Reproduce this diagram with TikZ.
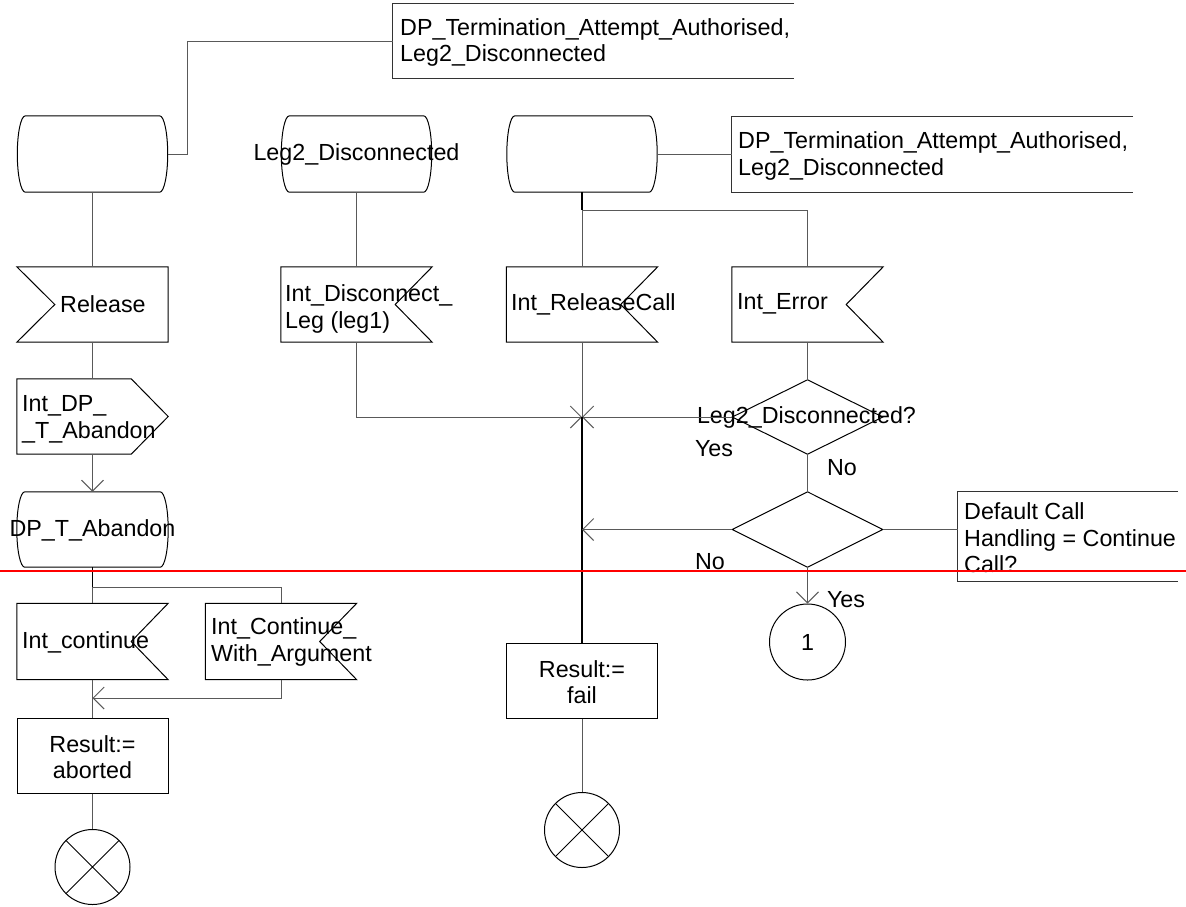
\documentclass[tikz,border=0pt]{standalone}
\usepackage{fontspec}
\setmainfont{Liberation Sans}
\usetikzlibrary{arrows.meta,calc}
\newcommand{\fs}{\fontsize{23.3}{26.6}\selectfont}
\newcommand{\sdlstate}[1]{%
 \draw[outl] ([xshift=8]#1.north west) -- ([xshift=-8]#1.north east)
  .. controls ([xshift=-3.6]#1.north east) and ([yshift=21]#1.east) .. (#1.east)
  .. controls ([yshift=-21]#1.east) and ([xshift=-3.6]#1.south east) .. ([xshift=-8]#1.south east)
  -- ([xshift=8]#1.south west)
  .. controls ([xshift=3.6]#1.south west) and ([yshift=-21]#1.west) .. (#1.west)
  .. controls ([yshift=21]#1.west) and ([xshift=3.6]#1.north west) .. ([xshift=8]#1.north west) -- cycle;}
\newcommand{\inpR}[1]{\draw[outl] (#1.north west) -- (#1.north east) -- ([xshift=-37]#1.east) -- (#1.south east) -- (#1.south west) -- cycle;}
\newcommand{\inpL}[1]{\draw[outl] (#1.north west) -- (#1.north east) -- (#1.south east) -- (#1.south west) -- ([xshift=38]#1.west) -- cycle;}
\newcommand{\outp}[1]{\draw[outl] (#1.north west) -- ([xshift=-37]#1.north east) -- (#1.east) -- ([xshift=-37]#1.south east) -- (#1.south west) -- cycle;}
\newcommand{\dmd}[1]{\draw[outl] (#1.west) -- (#1.north) -- (#1.east) -- (#1.south) -- cycle;}
\newcommand{\cmt}[1]{\draw[cmtline] (#1.north east) -- (#1.north west) -- (#1.south west) -- (#1.south east);}
\newcommand{\termx}[1]{\draw[outl] (#1.45) -- (#1.225) (#1.135) -- (#1.315);}
\begin{document}
\begin{tikzpicture}[x=1pt,y=-1pt,
 shp/.style={draw=none, inner sep=0, minimum width=151, minimum height=75},
 taskbox/.style={draw=black, line width=1pt, inner sep=0, minimum width=151, minimum height=75},
 outl/.style={draw=black, line width=1pt},
 cmtline/.style={draw=black!80, line width=1pt},
 conn/.style={draw=black!65, line width=1pt},
 heavy/.style={draw=black, line width=2pt},
 arr/.style={-{Straight Barb[length=11pt,width=22pt]}},
 txt/.style={inner sep=0, font=\fs, align=left, text=black},
 ctxt/.style={inner sep=0, font=\fs, align=center, text=black},
 term/.style={circle, draw=black, line width=1pt, minimum size=75, inner sep=0},
]
\useasboundingbox (0,0) rectangle (1186,906);

% comments
\node[shp, minimum width=401, minimum height=74] (c1) at (593.5,41) {};
\node[shp, minimum width=401, minimum height=75] (c2) at (932.5,154.5) {};
\node[shp, minimum width=220, minimum height=89] (c3) at (1068,536.5) {};
\cmt{c1}\cmt{c2}\cmt{c3}
\node[txt, anchor=west] (c1t) at (400,42.5) {DP\_Termination\_Attempt\_Authorised,\\Leg2\_Disconnected};
\node[txt, anchor=west] (c2t) at (738,156) {DP\_Termination\_Attempt\_Authorised,\\Leg2\_Disconnected};
\node[txt, anchor=west] (c3t) at (964,538) {Default Call\\Handling = Continue\\Call?};

% states
\node[shp, minimum width=150, minimum height=76] (s1) at (92.5,154) {};
\node[shp, minimum width=150, minimum height=76] (s2) at (356.5,154) {};
\node[shp, minimum width=150, minimum height=76] (s3) at (582,154) {};
\node[shp] (s4) at (92.5,529.5) {};
\sdlstate{s1}\sdlstate{s2}\sdlstate{s3}\sdlstate{s4}
\node[ctxt] (s2t) at (356.5,154) {Leg2\_Disconnected};
\node[ctxt] (s4t) at (92.5,530) {DP\_T\_Abandon};

% inputs
\node[shp] (rel) at (92.5,304.5) {};
\node[shp] (idl) at (356.5,304.5) {};
\node[shp] (irc) at (582,304.5) {};
\node[shp] (ie) at (807.5,304.5) {};
\node[shp, minimum height=76] (ic) at (92.5,641.5) {};
\node[shp, minimum height=76] (icwa) at (281,641.5) {};
\inpL{rel}\inpR{idl}\inpR{irc}\inpR{ie}\inpR{ic}\inpR{icwa}
\node[txt, anchor=west] (relt) at (60,304) {Release};
\node[txt, anchor=west] (idlt) at (285,309) {Int\_Disconnect\_\\Leg (leg1)};
\node[txt, anchor=west] (irct) at (511,304) {Int\_ReleaseCall};
\node[txt, anchor=west] (iet) at (737,304) {Int\_Error};
\node[txt, anchor=west] (ict) at (22,642) {Int\_continue};
\node[txt, anchor=west] (icwat) at (211,642) {Int\_Continue\_\\With\_Argument};

% output
\node[shp] (out1) at (92.5,416.5) {};
\outp{out1}
\node[txt, anchor=west] (out1t) at (22,419) {Int\_DP\_\\\_T\_Abandon};

% decisions
\node[shp, minimum width=150, minimum height=74] (d1) at (807.5,417) {};
\node[shp, minimum width=150, minimum height=75] (d2) at (807.5,529.5) {};
\dmd{d1}\dmd{d2}
\node[ctxt] (d1t) at (806.5,417) {Leg2\_Disconnected?};

% tasks
\node[taskbox] (res1) at (92.5,755.5) {};
\node[taskbox] (res2) at (582,680.5) {};
\node[ctxt] (res1t) at (92.5,757) {Result:=\\aborted};
\node[ctxt] (res2t) at (582,682) {Result:=\\fail};

% terminators and connector
\node[term] (term1) at (92.5,867) {};
\node[term] (term2) at (582,830) {};
\termx{term1}\termx{term2}
\node[term, minimum size=76, font=\fs] (con1) at (807.5,642) {1};

% coordinates
\coordinate (b1) at (582,210);
\coordinate (b2) at (92.5,587);
\coordinate (j) at (582,417);
\coordinate (m1) at (92.5,698);

% connectors
\draw[conn] (s1.east) -- (187,154) |- (c1.west);
\draw[conn] (s3.east) -- (s3.east -| c2.west);
\draw[conn] (d2.east) -- (d2.east -| c3.west);
\draw[conn] (s1.south) -- (rel.north);
\draw[conn] (s2.south) -- (idl.north);
\draw[heavy, line width=1.5pt] (s3.south) -- (b1);
\draw[conn] (b1) -- (irc.north);
\draw[conn] (b1) -| (ie.north);
\draw[conn, arr] (idl.south) |- (j);
\draw[conn, arr] (d1.west) -- (j);
\draw[conn] (irc.south) -- (j);
\draw[heavy] (j) -- (res2.north);
\draw[conn] (ie.south) -- (d1.north);
\draw[conn] (d1.south) -- (d2.north);
\draw[conn, arr] (d2.west) -- (d2.west -| j);
\draw[conn, arr] (d2.south) -- (con1.north);
\draw[conn] (rel.south) -- (out1.north);
\draw[conn, arr] (out1.south) -- (s4.north);
\draw[heavy, line width=1.5pt] (s4.south) -- (b2);
\draw[conn] (b2) -- (ic.north);
\draw[conn] (b2) -| (icwa.north);
\draw[conn] (ic.south) -- (res1.north);
\draw[conn, arr] (icwa.south) |- (m1);
\draw[conn] (res1.south) -- (term1.north);
\draw[conn] (res2.south) -- (term2.north);

% branch labels
\node[txt] (y1) at (714,449) {Yes};
\node[txt] (n1) at (842,468) {No};
\node[txt] (n2) at (710,562) {No};
\node[txt] (y2) at (846,600) {Yes};

% red marker line
\coordinate (rl) at (0,571);
\coordinate (rr) at (1186,571);
\draw[red, line width=2pt] (rl) -- (rr);
\end{tikzpicture}
\end{document}
